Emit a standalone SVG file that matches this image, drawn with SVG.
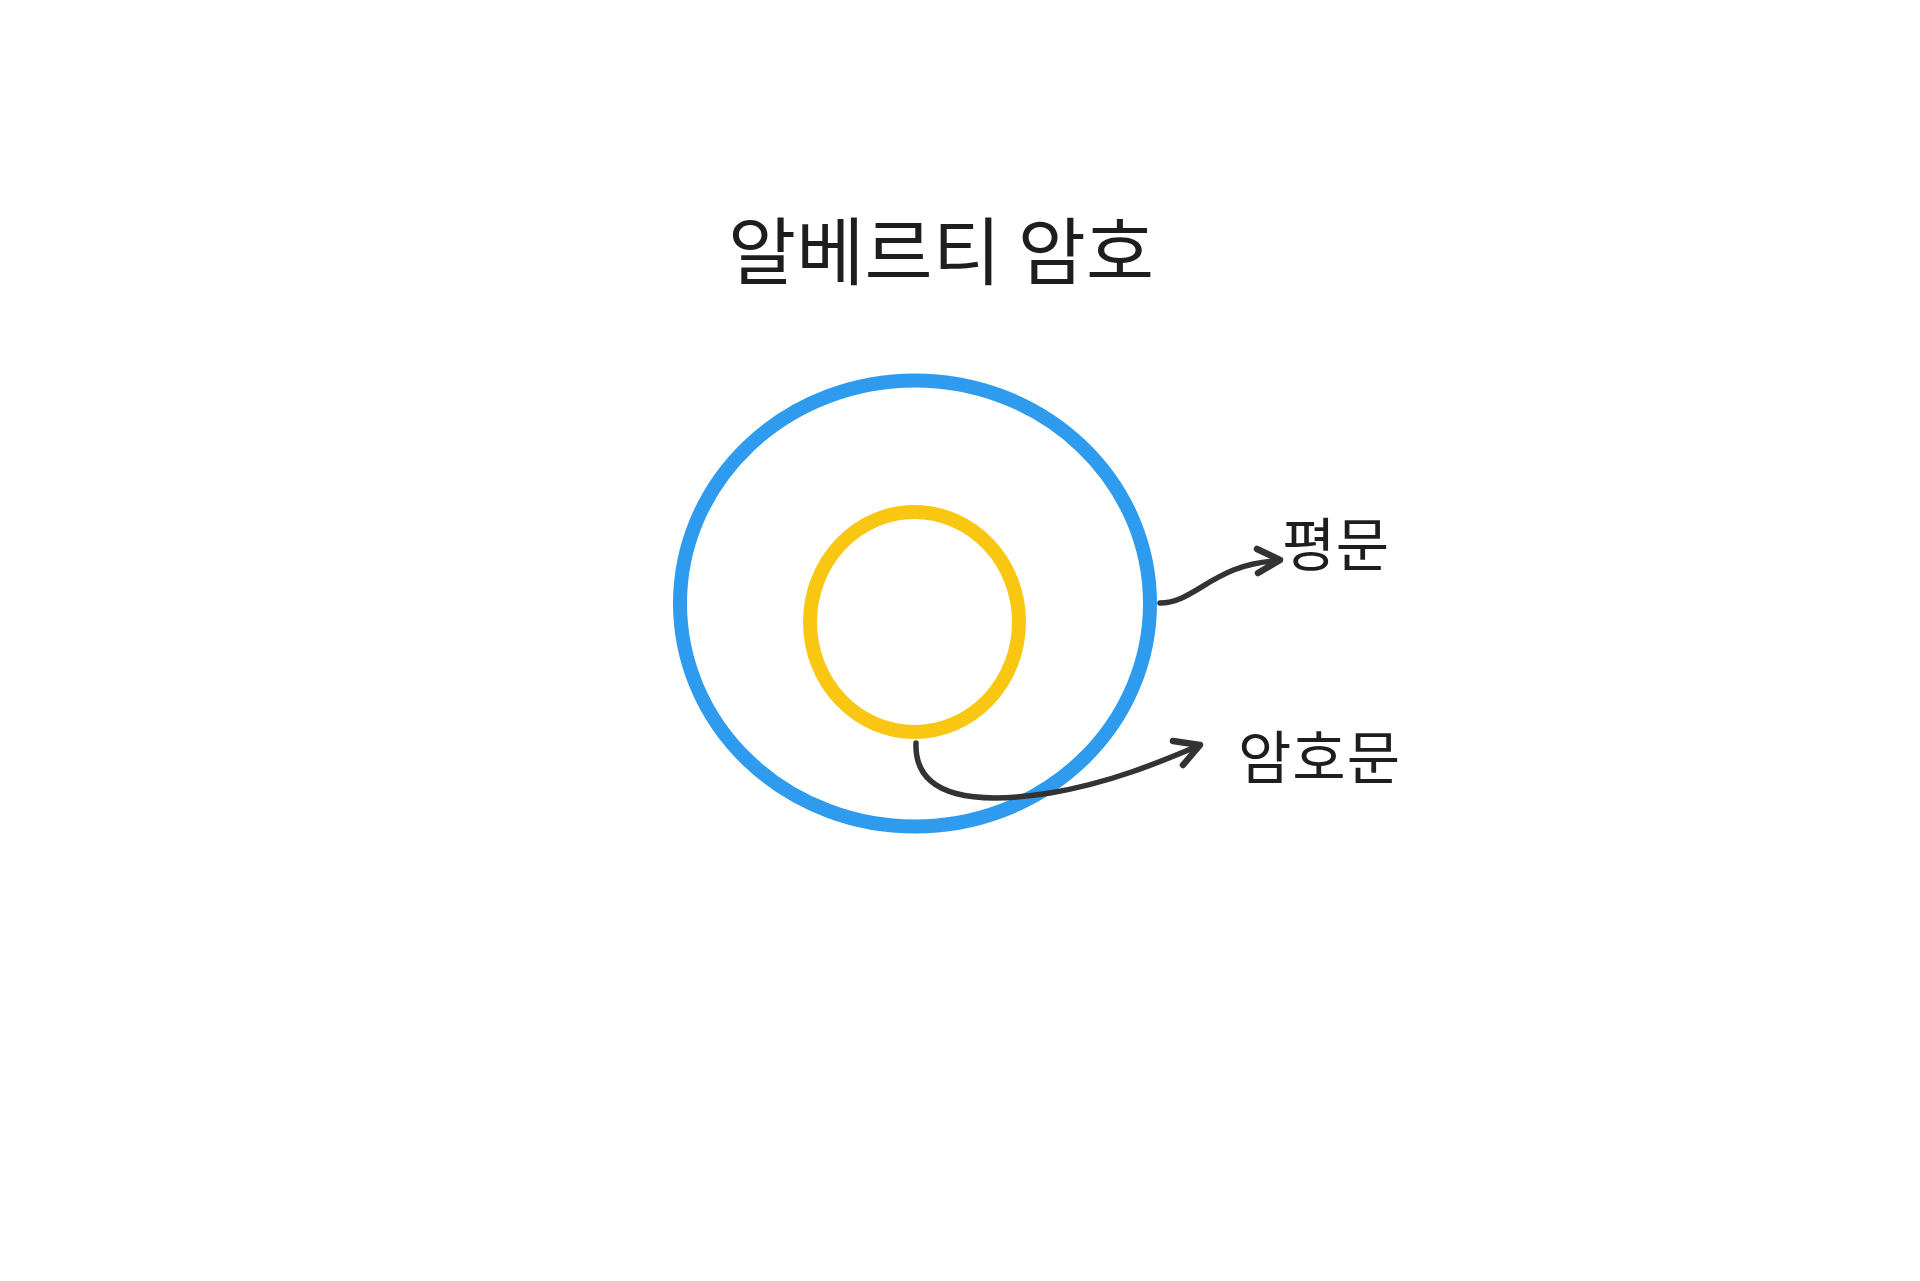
<svg xmlns="http://www.w3.org/2000/svg" width="1920" height="1281" viewBox="0 0 1920 1281">
<style>
.t{font-family:"Noto Sans CJK KR","Noto Sans CJK SC",sans-serif;fill:#1e1e1e}
.c{stroke:#333;stroke-width:5.5;fill:none;stroke-linecap:round;stroke-linejoin:round}
.h{stroke:#333;stroke-width:6.5;fill:none;stroke-linecap:round;stroke-linejoin:round}
</style>
<rect width="1920" height="1281" fill="#fff"/>
<g id="title"><text class="t" x="728" y="279" font-size="74" textLength="426" lengthAdjust="spacing">알베르티 암호</text></g>
<g id="outer"><ellipse cx="915" cy="603.5" rx="235" ry="223" fill="none" stroke="#2e9bef" stroke-width="14"/></g>
<g id="inner"><ellipse cx="914.5" cy="622" rx="104.5" ry="110" fill="none" stroke="#f9c712" stroke-width="14"/></g>
<g id="label-plain"><text class="t" x="1282" y="566" font-size="58" textLength="107" lengthAdjust="spacing">평문</text></g>
<g id="label-cipher"><text class="t" x="1238" y="779" font-size="58" textLength="162" lengthAdjust="spacing">암호문</text></g>
<g id="connectors">
<path class="c" d="M1160 603 C1195 603 1215 563 1278 561"/>
<path class="h" d="M1257 549 L1280 560 L1258 573"/>
<path class="c" d="M916 743 C914 800 980 804 1050 793 C1110 783 1160 762 1198 746"/>
<path class="h" d="M1173 741 L1200 745 L1183 765"/>
</g>
</svg>
